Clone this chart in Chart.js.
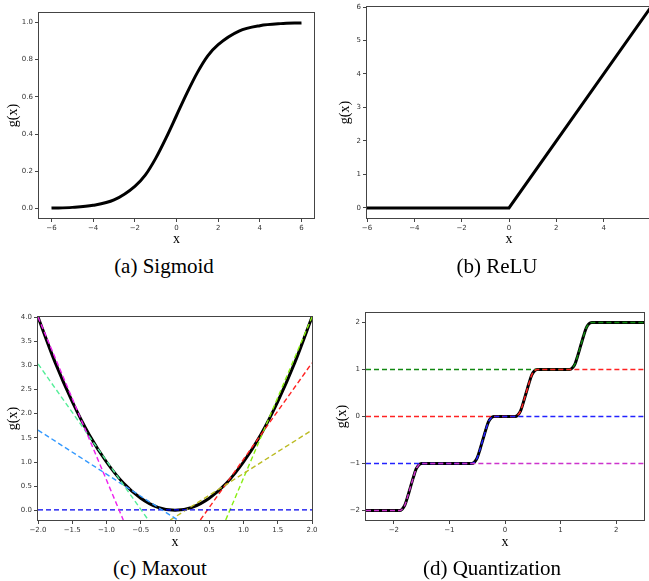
<!DOCTYPE html>
<html>
<head>
<meta charset="utf-8">
<script src="https://cdn.jsdelivr.net/npm/chart.js@4.4.1/dist/chart.umd.min.js"></script>
<style>
  html, body { margin: 0; padding: 0; background: #fff; overflow: hidden; }
  body { position: relative; width: 649px; height: 581px; }
  canvas { position: absolute; }
  .caption {
    position: absolute;
    width: 240px;
    text-align: center;
    font-family: 'Liberation Serif', 'Times New Roman', serif;
    font-size: 21px;
    line-height: 21px;
    color: #000;
  }
</style>
</head>
<body>
<canvas id="sigmoidChart" width="330" height="250" style="left:0;top:0"></canvas>
<canvas id="reluChart" width="340" height="250" style="left:320px;top:0"></canvas>
<canvas id="maxoutChart" width="330" height="253" style="left:0;top:300px"></canvas>
<canvas id="quantChart" width="329" height="253" style="left:320px;top:300px"></canvas>
<div class="caption" style="left:44px;top:256px">(a) Sigmoid</div>
<div class="caption" style="left:377px;top:256px">(b) ReLU</div>
<div class="caption" style="left:40px;top:558px">(c) Maxout</div>
<div class="caption" style="left:372px;top:558px">(d) Quantization</div>
<script>
// (a) Sigmoid
const sigmoidX = [-6, -5, -4, -3, -2, -1.5, -1, -0.5, 0, 0.5, 1, 1.5, 2, 3, 4, 5, 6];
const sigmoidY = [0.003, 0.007, 0.018, 0.047, 0.12, 0.18, 0.27, 0.38, 0.5, 0.62, 0.73, 0.82, 0.88, 0.953, 0.982, 0.993, 0.997];
const sigmoidXTicks = [-6, -4, -2, 0, 2, 4, 6];
const sigmoidYTicks = [0, 0.2, 0.4, 0.6, 0.8, 1.0];

// (b) ReLU
const reluX = [-6, 0, 6];
const reluY = [0, 0, 6];
const reluXTicks = [-6, -4, -2, 0, 2, 4, 6];
const reluYTicks = [0, 1, 2, 3, 4, 5, 6];

// (c) Maxout : la courbe et les morceaux affines
const maxoutX = [-2, -1.75, -1.5, -1.25, -1, -0.75, -0.5, -0.25, 0, 0.25, 0.5, 0.75, 1, 1.25, 1.5, 1.75, 2];
const maxoutY = [4, 3.06, 2.25, 1.56, 1, 0.56, 0.25, 0.06, 0, 0.06, 0.25, 0.56, 1, 1.56, 2.25, 3.06, 4];
const maxoutPieceX = [[-2, -0.755], [-2, -0.39], [-2, 0.04], [-2, 2], [-0.07, 2], [0.37, 2], [0.74, 2]];
const maxoutPieceY = [[4, -0.2], [3.03, -0.2], [1.66, -0.2], [0.01, 0.01], [-0.2, 1.66], [-0.2, 3.05], [-0.2, 4]];
const maxoutXTicks = [-2, -1.5, -1, -0.5, 0, 0.5, 1, 1.5, 2];
const maxoutYTicks = [0, 0.5, 1, 1.5, 2, 2.5, 3, 3.5, 4];

// (d) Quantization
const quantX = [-2.5, -1.9, -1.85, -1.8, -1.75, -1.7, -1.65, -1.6, -1.55, -1.5,
  -0.6, -0.55, -0.5, -0.45, -0.4, -0.35, -0.3, -0.25, -0.2,
  0.18, 0.23, 0.28, 0.33, 0.38, 0.43, 0.48, 0.53, 0.58,
  1.16, 1.21, 1.26, 1.31, 1.36, 1.41, 1.46, 1.51, 1.56, 2.5];
const quantY = [-2, -2, -1.97, -1.88, -1.7, -1.5, -1.3, -1.12, -1.03, -1,
  -1, -0.97, -0.88, -0.7, -0.5, -0.3, -0.12, -0.03, 0,
  0, 0.03, 0.12, 0.3, 0.5, 0.7, 0.88, 0.97, 1,
  1, 1.03, 1.12, 1.3, 1.5, 1.7, 1.88, 1.97, 2, 2];
const quantMagentaX = [-2.5, -1.9, -1.85, -1.8, -1.75, -1.7, -1.65, -1.6, -1.55, -1.5, 2.5];
const quantMagentaY = [-2, -2, -1.97, -1.88, -1.7, -1.5, -1.3, -1.12, -1.03, -1, -1];
const quantBlueX = [-2.5, -0.6, -0.55, -0.5, -0.45, -0.4, -0.35, -0.3, -0.25, -0.2, 2.5];
const quantBlueY = [-1, -1, -0.97, -0.88, -0.7, -0.5, -0.3, -0.12, -0.03, 0, 0];
const quantRedX = [-2.5, 0.18, 0.23, 0.28, 0.33, 0.38, 0.43, 0.48, 0.53, 0.58, 2.5];
const quantRedY = [0, 0, 0.03, 0.12, 0.3, 0.5, 0.7, 0.88, 0.97, 1, 1];
const quantGreenX = [-2.5, 1.16, 1.21, 1.26, 1.31, 1.36, 1.41, 1.46, 1.51, 1.56, 2.5];
const quantGreenY = [1, 1, 1.03, 1.12, 1.3, 1.5, 1.7, 1.88, 1.97, 2, 2];
const quantXTicks = [-2, -1, 0, 1, 2];
const quantYTicks = [-2, -1, 0, 1, 2];

const maxoutColors = ['#ee22ee', '#55ee99', '#3399ff', '#0000ee', '#bbbb22', '#ff2222', '#88ee11'];

const tickFont = { family: 'DejaVu Sans', size: 7 };
const titleFont = { family: 'Liberation Serif', size: 14, lineHeight: 1 };

// cadre complet autour de la zone du graphe (les 4 bords)
const frame = {
  id: 'frame',
  afterDatasetsDraw(chart) {
    const { ctx, chartArea: a } = chart;
    ctx.save();
    ctx.strokeStyle = '#444';
    ctx.lineWidth = 1;
    ctx.strokeRect(Math.round(a.left) - 0.5, Math.round(a.top) - 0.5,
      Math.round(a.right - a.left) + 1, Math.round(a.bottom - a.top) + 1);
    ctx.restore();
  }
};

function pts(xs, ys) {
  return xs.map((x, i) => ({ x, y: ys[i] }));
}

function fmt(v, d) {
  const s = Math.abs(v).toFixed(d);
  return v < -1e-9 ? '\u2212' + s : s;
}

function solid(data, straight) {
  return {
    data, borderColor: '#000', borderWidth: 3, order: 1, clip: 0, pointRadius: 0,
    tension: 0, cubicInterpolationMode: straight ? 'default' : 'monotone'
  };
}

function dashed(data, color, width) {
  return {
    data, borderColor: color, borderWidth: width, borderDash: [5, 3], order: 0, clip: 0,
    pointRadius: 0, cubicInterpolationMode: 'monotone'
  };
}

function axis(a, horizontal) {
  return {
    type: 'linear',
    position: horizontal ? 'bottom' : 'left',
    min: a.min,
    max: a.max,
    afterBuildTicks: s => { s.ticks = a.ticks.map(v => ({ value: v })); },
    afterFit: s => { if (horizontal) s.height = a.size; else s.width = a.size; },
    grid: { drawOnChartArea: false, drawTicks: true, tickLength: 4, color: '#444', lineWidth: 1 },
    border: { display: false },
    ticks: {
      font: tickFont, color: '#333', padding: 2, maxRotation: 0, autoSkip: false,
      callback: v => fmt(v, a.decimals)
    },
    title: { display: true, text: a.title, font: titleFont, color: '#000', padding: 0 }
  };
}

function makeChart(id, cfg) {
  return new Chart(document.getElementById(id), {
    type: 'line',
    data: { datasets: cfg.datasets },
    options: {
      responsive: false,
      animation: false,
      events: [],
      layout: { padding: cfg.padding },
      plugins: { legend: { display: false }, tooltip: { enabled: false } },
      scales: {
        x: axis(cfg.x, true),
        y: axis(cfg.y, false)
      }
    },
    plugins: [frame]
  });
}

makeChart('sigmoidChart', {
  padding: { left: 6, top: 13, right: 16, bottom: 4 },
  x: { min: -6.6, max: 6.6, ticks: sigmoidXTicks, decimals: 0, size: 28, title: 'x' },
  y: { min: -0.05, max: 1.05, ticks: sigmoidYTicks, decimals: 1, size: 33, title: 'g(x)' },
  datasets: [solid(pts(sigmoidX, sigmoidY))]
});

makeChart('reluChart', {
  padding: { left: 18, top: 7, right: 9, bottom: 4 },
  x: { min: -6, max: 6, ticks: reluXTicks, decimals: 0, size: 28, title: 'x' },
  y: { min: -0.3, max: 6, ticks: reluYTicks, decimals: 0, size: 29, title: 'g(x)' },
  datasets: [solid(pts(reluX, reluY), true)]
});

makeChart('maxoutChart', {
  padding: { left: 6, top: 17, right: 18, bottom: 4 },
  x: { min: -2, max: 2, ticks: maxoutXTicks, decimals: 1, size: 29, title: 'x' },
  y: { min: -0.2, max: 4, ticks: maxoutYTicks, decimals: 1, size: 32, title: 'g(x)' },
  datasets: [solid(pts(maxoutX, maxoutY))].concat(
    maxoutPieceX.map((xs, i) => dashed(pts(xs, maxoutPieceY[i]), maxoutColors[i], 1.4))
  )
});

makeChart('quantChart', {
  padding: { left: 15, top: 13, right: 5, bottom: 4 },
  x: { min: -2.5, max: 2.5, ticks: quantXTicks, decimals: 0, size: 29, title: 'x' },
  y: { min: -2.2, max: 2.2, ticks: quantYTicks, decimals: 0, size: 31, title: 'g(x)' },
  datasets: [
    solid(pts(quantX, quantY)),
    dashed(pts(quantMagentaX, quantMagentaY), '#cc33cc', 1.5),
    dashed(pts(quantBlueX, quantBlueY), '#2222ff', 1.5),
    dashed(pts(quantRedX, quantRedY), '#ff2222', 1.5),
    dashed(pts(quantGreenX, quantGreenY), '#118811', 1.5)
  ]
});
</script>
</body>
</html>
